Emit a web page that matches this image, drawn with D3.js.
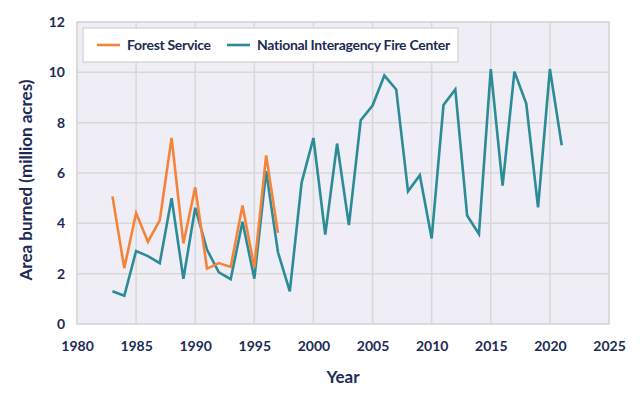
<!DOCTYPE html>
<html>
<head>
<meta charset="utf-8">
<script src="https://cdn.jsdelivr.net/npm/d3@7"></script>
<style>
  body { margin: 0; background: #fff; }
  text { font-family: Lato, "Open Sans", sans-serif; font-weight: bold; fill: #1c2b55; }
</style>
</head>
<body>
<div id="chart"></div>
<script>
// data
var fsYears = [1983, 1984, 1985, 1986, 1987, 1988, 1989, 1990, 1991, 1992, 1993, 1994, 1995, 1996, 1997];
var fsValues = [5.07, 2.22, 4.41, 3.27, 4.12, 7.39, 3.2, 5.43, 2.2, 2.42, 2.27, 4.71, 2.24, 6.7, 3.62];

var nifcYears = d3.range(1983, 2022);
var nifcValues = [1.3, 1.12, 2.9, 2.7, 2.42, 5.0, 1.8, 4.62, 2.95, 2.05, 1.78, 4.06, 1.8, 6.07, 2.85,
    1.3, 5.62, 7.39, 3.55, 7.17, 3.93, 8.1, 8.68, 9.87, 9.32, 5.27, 5.91, 3.4, 8.7, 9.32,
    4.31, 3.58, 10.13, 5.5, 10.03, 8.76, 4.63, 10.13, 7.1];

var xTicks = [1980, 1985, 1990, 1995, 2000, 2005, 2010, 2015, 2020, 2025];
var yTicks = [0, 2, 4, 6, 8, 10, 12];

// set the dimensions and margins of the graph
var margin = {top: 22, right: 31, bottom: 79, left: 77},
    width = 640 - margin.left - margin.right,
    height = 403 - margin.top - margin.bottom;

var svg = d3.select("#chart")
    .append("svg")
    .attr("width", 640)
    .attr("height", 403)
    .append("g")
    .attr("transform", "translate(" + margin.left + "," + margin.top + ")");

var x = d3.scaleLinear().domain([1980, 2025]).range([0, width]);
var y = d3.scaleLinear().domain([0, 12]).range([height, 0]);

// plot background
svg.append("rect")
    .attr("width", width)
    .attr("height", height)
    .attr("fill", "#efedf5")
    .attr("stroke", "#dcdcdc")
    .attr("stroke-width", 1.5);

// grid lines
svg.append("g")
    .selectAll("line")
    .data(xTicks)
    .join("line")
    .attr("x1", d => x(d)).attr("x2", d => x(d))
    .attr("y1", 0).attr("y2", height)
    .attr("stroke", "#d8d8d8").attr("stroke-width", 1.5);

svg.append("g")
    .selectAll("line")
    .data(yTicks)
    .join("line")
    .attr("x1", 0).attr("x2", width)
    .attr("y1", d => y(d)).attr("y2", d => y(d))
    .attr("stroke", "#d8d8d8").attr("stroke-width", 1.5);

// axes (labels only)
var xAxis = svg.append("g")
    .attr("transform", "translate(0," + height + ")")
    .call(d3.axisBottom(x).tickValues(xTicks).tickFormat(d3.format("d")).tickSize(0).tickPadding(17));
xAxis.select(".domain").remove();
xAxis.selectAll("text").style("font-size", "14px");

var yAxis = svg.append("g")
    .call(d3.axisLeft(y).tickValues(yTicks).tickSize(0).tickPadding(12));
yAxis.select(".domain").remove();
yAxis.selectAll("text").style("font-size", "14px");

// lines
var line = d3.line()
    .x(d => x(d[0]))
    .y(d => y(d[1]));

svg.append("path")
    .datum(nifcYears.map((yr, i) => [yr, nifcValues[i]]))
    .attr("d", line)
    .attr("fill", "none")
    .attr("stroke", "#2b8b96")
    .attr("stroke-width", 2.6);

svg.append("path")
    .datum(fsYears.map((yr, i) => [yr, fsValues[i]]))
    .attr("d", line)
    .attr("fill", "none")
    .attr("stroke", "#f5843a")
    .attr("stroke-width", 2.6);

// legend
var legend = svg.append("g").attr("transform", "translate(6,6)");
legend.append("rect")
    .attr("width", 375)
    .attr("height", 34)
    .attr("fill", "#fff")
    .attr("stroke", "#d8d8d8")
    .attr("stroke-width", 1.5);

var legendItems = [
    {name: "Forest Service", color: "#f5843a", x: 14},
    {name: "National Interagency Fire Center", color: "#2b8b96", x: 144}
];
var li = legend.selectAll("g")
    .data(legendItems)
    .join("g")
    .attr("transform", d => "translate(" + d.x + ",17)");
li.append("line")
    .attr("x1", 0).attr("x2", 23)
    .attr("stroke", d => d.color)
    .attr("stroke-width", 2.6);
li.append("text")
    .attr("x", 30)
    .attr("dy", "0.35em")
    .style("font-size", "14px")
    .style("letter-spacing", "-0.3px")
    .text(d => d.name);

// axis titles
svg.append("text")
    .attr("x", width / 2)
    .attr("y", height + 59)
    .attr("text-anchor", "middle")
    .style("font-size", "17px")
    .text("Year");

svg.append("text")
    .attr("transform", "translate(-45," + (height / 2 + 7) + ") rotate(-90)")
    .attr("text-anchor", "middle")
    .style("font-size", "17px")
    .text("Area burned (million acres)");
</script>
</body>
</html>
